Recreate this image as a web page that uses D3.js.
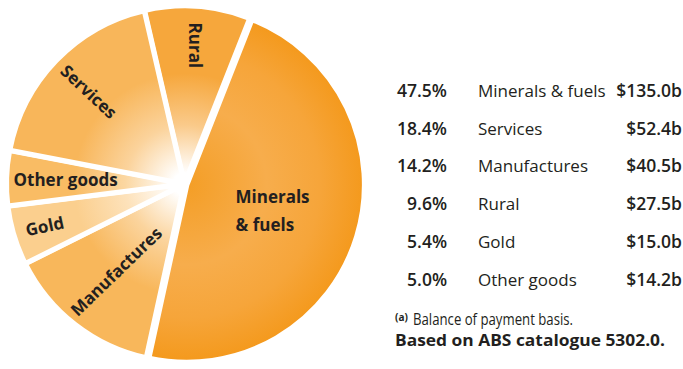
<!DOCTYPE html>
<html><head><meta charset="utf-8">
<script src="https://cdn.jsdelivr.net/npm/d3@7"></script>
<style>body{margin:0;background:#fff}svg{display:block}</style>
</head><body>
<svg id="c" width="683" height="369"></svg>
<script>
// ---- data ----
const categories = ["Rural", "Minerals & fuels", "Manufactures", "Gold", "Other goods", "Services"];
const shares = [9.6, 47.5, 14.2, 5.4, 5.0, 18.4];
const legendCategories = ["Minerals & fuels", "Services", "Manufactures", "Rural", "Gold", "Other goods"];
const legendShares = ["47.5%", "18.4%", "14.2%", "9.6%", "5.4%", "5.0%"];
const legendValues = ["$135.0b", "$52.4b", "$40.5b", "$27.5b", "$15.0b", "$14.2b"];
const noteLine1 = "Balance of payment basis.";
const noteLine2 = "Based on ABS catalogue 5302.0.";

// ---- styles ----
const sliceColors = {"Rural":"#F6A73C","Minerals & fuels":"#F49B20","Manufactures":"#F8B75B","Gold":"#FBCF8E","Other goods":"#F9BC64","Services":"#F8B65A"};
const labelCfg = {
  "Rural": {r:139, rot:90, lines:["Rural"]},
  "Minerals & fuels": {r:92, rot:0, lines:["Minerals","& fuels"]},
  "Manufactures": {r:111, rot:-44, lines:["Manufactures"]},
  "Gold": {r:146, rot:-12, lines:["Gold"]},
  "Other goods": {r:119, rot:0, lines:["Other goods"]},
  "Services": {r:133, rot:43, lines:["Services"]}
};
const textColor = "#231F20";
const font = "'Open Sans', 'Noto Sans', sans-serif";

const svg = d3.select("#c");
const cx = 184.5, cy = 184, R = 177.5;
const defs = svg.append("defs");

const startA = -13 * Math.PI / 180;
const pie = d3.pie().sort(null).value(d => d.v).startAngle(startA).endAngle(startA + 2 * Math.PI);
const data = categories.map((c, i) => ({c, v: shares[i]}));
const arcs = pie(data);
const arc = d3.arc().innerRadius(0).outerRadius(R);

arcs.forEach((a, i) => {
  const g = defs.append("radialGradient").attr("id", "g" + i)
    .attr("gradientUnits", "userSpaceOnUse").attr("cx", 0).attr("cy", 0).attr("r", R)
    .attr("fx", 0).attr("fy", 0);
  const col = sliceColors[a.data.c];
  if (a.data.c === "Minerals & fuels") {
    g.append("stop").attr("offset", 0).attr("stop-color", "#F49E26");
    g.append("stop").attr("offset", 0.45).attr("stop-color", "#F7AD4C");
    g.append("stop").attr("offset", 0.75).attr("stop-color", "#F6A53A");
    g.append("stop").attr("offset", 1).attr("stop-color", "#F4991C");
  } else {
    g.append("stop").attr("offset", 0).attr("stop-color", "#FFFFFF");
    g.append("stop").attr("offset", 0.06).attr("stop-color", "#FFFFFF");
    g.append("stop").attr("offset", 0.33).attr("stop-color", d3.interpolateRgb("#FFFFFF", col)(0.6));
    g.append("stop").attr("offset", 0.62).attr("stop-color", col);
    g.append("stop").attr("offset", 1).attr("stop-color", col);
  }
});

const pieG = svg.append("g").attr("transform", `translate(${cx},${cy})`);
pieG.selectAll("path").data(arcs).join("path")
  .attr("d", arc)
  .attr("transform", d => {
    const m = (d.startAngle + d.endAngle) / 2;
    const off = d.data.c === "Minerals & fuels" ? 2.5 : 0.5;
    return `translate(${(off * Math.sin(m)).toFixed(2)},${(-off * Math.cos(m)).toFixed(2)})`;
  })
  .attr("fill", (d, i) => `url(#g${i})`)
  .attr("stroke", "#fff").attr("stroke-width", 5).attr("stroke-linejoin", "round");

// slice labels
arcs.forEach(a => {
  const cfg = labelCfg[a.data.c];
  const m = (a.startAngle + a.endAngle) / 2;
  const x = cfg.r * Math.sin(m), y = -cfg.r * Math.cos(m);
  const t = pieG.append("text")
    .attr("transform", `translate(${x.toFixed(1)},${y.toFixed(1)}) rotate(${cfg.rot})`)
    .attr("text-anchor", "middle")
    .attr("font-family", font).attr("font-weight", 700).attr("font-size", 17)
    .attr("fill", textColor);
  const n = cfg.lines.length, lh = 28.5;
  cfg.lines.forEach((ln, k) => {
    t.append("tspan").attr("x", 0).attr("y", (k - (n - 1) / 2) * lh + 6).text(ln);
  });
  if (n > 1) t.attr("text-anchor", "start").selectAll("tspan").attr("x", -37);
});

// legend table
const rowY = d3.scalePoint().domain(legendCategories).range([97, 285.5]);
const leg = svg.append("g").attr("font-family", font).attr("fill", textColor);
leg.selectAll("text.p").data(legendCategories).join("text").attr("class", "p")
  .attr("x", 447).attr("y", d => rowY(d)).attr("text-anchor", "end").attr("font-weight", 600)
  .attr("font-size", 17.5)
  .text((d, i) => legendShares[i]);
leg.selectAll("text.n").data(legendCategories).join("text").attr("class", "n")
  .attr("x", 478).attr("y", d => rowY(d)).attr("font-weight", 400).attr("font-size", 17)
  .text(d => d);
leg.selectAll("text.v").data(legendCategories).join("text").attr("class", "v")
  .attr("x", 682).attr("y", d => rowY(d)).attr("text-anchor", "end").attr("font-weight", 600)
  .attr("font-size", 17.5)
  .text((d, i) => legendValues[i]);

// notes
const note = svg.append("g").attr("font-family", font).attr("fill", textColor);
note.append("text").attr("x", 395).attr("y", 321).attr("font-size", 10).attr("font-weight", 700).text("(a)");
note.append("text").attr("x", 413).attr("y", 325).attr("font-size", 16).attr("font-weight", 400)
  .attr("textLength", 160).attr("lengthAdjust", "spacingAndGlyphs").text(noteLine1);
note.append("text").attr("x", 395).attr("y", 346).attr("font-size", 16.5).attr("font-weight", 700)
  .attr("textLength", 270).attr("lengthAdjust", "spacingAndGlyphs").text(noteLine2);
</script>
</body></html>
